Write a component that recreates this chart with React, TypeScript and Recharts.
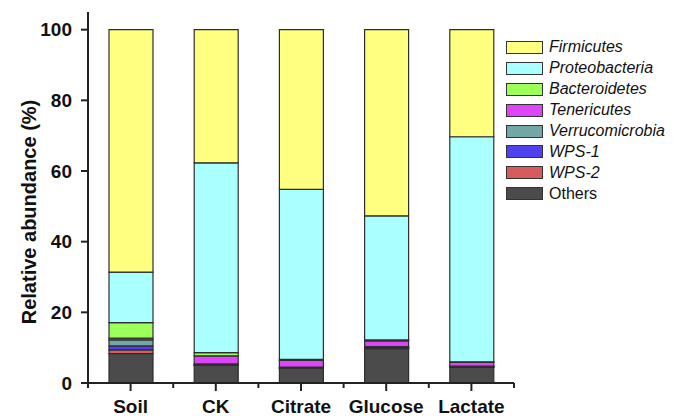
import { BarChart, Bar, XAxis, YAxis, Legend } from "recharts";

const FONT = '"Liberation Sans", Arial, sans-serif';

const samples = ["Soil", "CK", "Citrate", "Glucose", "Lactate"];

// relative abundance (%) per phylum, in sample order
const others = [8.3, 5.0, 4.1, 9.7, 4.4];
const wps2 = [1.1, 0.1, 0.1, 0.2, 0.1];
const wps1 = [1.1, 0.1, 0.1, 0.2, 0.1];
const verrucomicrobia = [1.7, 0.2, 0.2, 0.2, 0.2];
const tenericutes = [0.5, 2.3, 1.9, 1.6, 1.0];
const bacteroidetes = [4.4, 0.9, 0.3, 0.3, 0.2];
const proteobacteria = [14.3, 53.7, 48.1, 35.1, 63.7];
const firmicutes = [68.6, 37.7, 45.2, 52.7, 30.3];

const yTicks = [0, 20, 40, 60, 80, 100];

// stacking order, bottom to top
const series = [
  { key: "Others", values: others, color: "#4b4b4b", italic: false },
  { key: "WPS-2", values: wps2, color: "#d65c5c", italic: true },
  { key: "WPS-1", values: wps1, color: "#4f42ee", italic: true },
  { key: "Verrucomicrobia", values: verrucomicrobia, color: "#73a6a6", italic: true },
  { key: "Tenericutes", values: tenericutes, color: "#dc46f8", italic: true },
  { key: "Bacteroidetes", values: bacteroidetes, color: "#9cff5a", italic: true },
  { key: "Proteobacteria", values: proteobacteria, color: "#aaffff", italic: true },
  { key: "Firmicutes", values: firmicutes, color: "#ffff80", italic: true },
];

const data = samples.map((name, i) => {
  const row: Record<string, string | number> = { name };
  series.forEach((s) => {
    row[s.key] = s.values[i];
  });
  return row;
});

const TICK_SIZE = 8;
const TICK_MARGIN = 9;

// category label plus the short minor ticks on the band edges
function SampleTick(props: any) {
  const { x, y, payload, index, visibleTicksCount } = props;
  const half = payload.offset ?? 0;
  const axisY = y - TICK_SIZE - TICK_MARGIN;
  const edges = [x - half];
  if (index === visibleTicksCount - 1) edges.push(x + half);
  return (
    <g>
      {edges.map((ex, i) => (
        <line key={i} x1={ex} x2={ex} y1={axisY} y2={axisY + 5} stroke="#222" strokeWidth={2} />
      ))}
      <text
        x={x}
        y={y}
        dy="0.71em"
        textAnchor="middle"
        fontFamily={FONT}
        fontWeight="bold"
        fontSize={19}
        fill="#111"
      >
        {payload.value}
      </text>
    </g>
  );
}

function renderLegend() {
  const rows = [...series].reverse();
  return (
    <div style={{ fontFamily: FONT }}>
      {rows.map((s) => (
        <div
          key={s.key}
          style={{ display: "flex", alignItems: "center", height: 20.9 }}
        >
          <span
            style={{
              width: 35,
              height: 11,
              background: s.color,
              border: "1.5px solid #333",
              marginRight: 6,
            }}
          />
          <span
            style={{
              fontSize: 16,
              fontStyle: s.italic ? "italic" : "normal",
              color: "#111",
              lineHeight: "16px",
            }}
          >
            {s.key}
          </span>
        </div>
      ))}
    </div>
  );
}

function YTitle() {
  return (
    <text
      x={36}
      y={212}
      transform="rotate(-90 36 212)"
      textAnchor="middle"
      fontFamily={FONT}
      fontWeight="bold"
      fontSize={20}
      fill="#111"
    >
      Relative abundance (%)
    </text>
  );
}

export default function App() {
  return (
    <div style={{ position: "absolute", left: 0, top: 0, background: "#fff" }}>
      <BarChart
        width={673}
        height={416}
        data={data}
        margin={{ top: 12, right: 159, bottom: 0, left: 0 }}
        barSize={44}
      >
        <XAxis
          dataKey="name"
          height={33}
          tickSize={TICK_SIZE}
          tickMargin={TICK_MARGIN}
          axisLine={{ stroke: "#222", strokeWidth: 2 }}
          tickLine={{ stroke: "#222", strokeWidth: 2 }}
          tick={SampleTick}
          interval={0}
        />
        <YAxis
          width={88}
          domain={[0, 105]}
          ticks={yTicks}
          tickSize={7}
          tickMargin={9}
          axisLine={{ stroke: "#222", strokeWidth: 2 }}
          tickLine={{ stroke: "#222", strokeWidth: 2 }}
          tick={{ fontFamily: FONT, fontWeight: "bold", fontSize: 19, fill: "#111" }}
          label={<YTitle />}
        />
        <Legend
          layout="vertical"
          align="center"
          verticalAlign="middle"
          wrapperStyle={{ left: 506, top: 37 }}
          content={renderLegend}
        />
        {series.map((s) => (
          <Bar
            key={s.key}
            dataKey={s.key}
            stackId="a"
            fill={s.color}
            stroke="#2e2e2e"
            strokeWidth={1.2}
            isAnimationActive={false}
          />
        ))}
      </BarChart>
    </div>
  );
}
